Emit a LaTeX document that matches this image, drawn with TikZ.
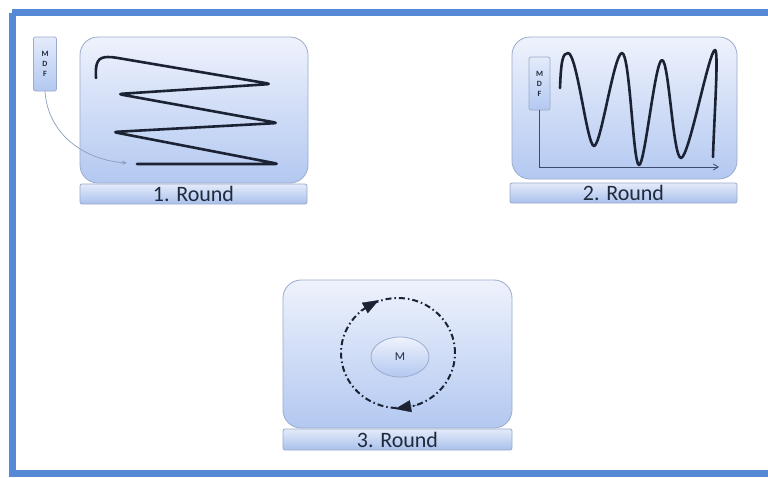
\documentclass[tikz,border=0pt]{standalone}
\usepackage{fontspec}
\setmainfont{Carlito}
\usetikzlibrary{shapes.geometric,arrows.meta}
\definecolor{frameblue}{HTML}{5589D5}
\definecolor{boxtop}{HTML}{EEF2FC}
\definecolor{boxbot}{HTML}{B3C8F1}
\definecolor{boxline}{HTML}{9AABCB}
\definecolor{bartop}{HTML}{E4EBFA}
\definecolor{barbot}{HTML}{A9C0EC}
\definecolor{ink}{HTML}{1B2233}
\definecolor{txt}{HTML}{1F2A3C}
\definecolor{axis}{HTML}{3C4C6C}
\definecolor{soft}{HTML}{8C9CBC}
\tikzset{
  roundbox/.style={draw=boxline, line width=0.8pt, rounded corners=18pt, top color=boxtop, bottom color=boxbot, inner sep=0pt},
  basebar/.style={draw=boxline, line width=0.8pt, rounded corners=2pt, top color=bartop, bottom color=barbot, inner sep=0pt, font=\fontsize{22}{22}\selectfont, text=txt},
  mdfbox/.style={draw=boxline, line width=0.7pt, rounded corners=2pt, top color=bartop, bottom color=boxbot, inner sep=0pt, align=center, font=\bfseries\fontsize{8}{9}\selectfont, text=txt},
  curve/.style={draw=ink, line width=2.6pt, line cap=round, line join=round},
  orbitline/.style={draw=ink, line width=2pt, dash pattern=on 6pt off 3pt on 1.5pt off 3pt},
  orbitarrow/.style={draw=ink, line width=0.3pt, -{Triangle[length=16pt,width=12pt]}},
}
\begin{document}
\begin{tikzpicture}[x=1pt,y=-1pt]
\useasboundingbox (0,0) rectangle (768,477);
\fill[white] (0,0) rectangle (768,477);
% frame
\draw[frameblue, line width=7pt] (12,12.5) -- (772,12.5) (12,12.5) -- (12,473.5) -- (772,473.5);

% ---------- Round 1 ----------
\node[roundbox, minimum width=228pt, minimum height=146pt] (b1) at (194,110) {};
\node[basebar, minimum width=227pt, minimum height=20pt] (r1) at (193.5,194) {1. Round};
\node[mdfbox, minimum width=23pt, minimum height=54pt] (m1) at (45,64) {M\\[1pt]D\\[1pt]F};
\coordinate (e1) at (127,163);
\draw[soft, line width=0.7pt, -{Stealth[length=5pt,width=4pt]}] (m1.south) .. controls (48,135) and (85,160) .. (e1);
\draw[curve, rounded corners=4pt] (96,78) .. controls (95,62) and (98,57) .. (112,57)
  -- (271,84) -- (118,94) -- (278,123) -- (113,132) -- (279,164) -- (137,164);

% ---------- Round 2 ----------
\node[roundbox, minimum width=225pt, minimum height=142pt] (b2) at (624.5,108) {};
\node[basebar, minimum width=227pt, minimum height=20pt] (r2) at (623.5,193) {2. Round};
\node[mdfbox, minimum width=21pt, minimum height=53pt] (m2) at (539.5,83.5) {M\\[1pt]D\\[1pt]F};
\coordinate (ax) at (719,167);
\draw[axis, line width=0.8pt, -{Straight Barb[length=5pt,width=6pt]}] (m2.south) |- (ax);
\draw[curve] (560,88) .. controls (561,60) and (563,53) .. (568,53)
  .. controls (577,53) and (587,146) .. (594,146)
  .. controls (601,146) and (614,53) .. (622,53)
  .. controls (630,53) and (633,165) .. (639,165)
  .. controls (645,165) and (655,60) .. (662,60)
  .. controls (669,60) and (673,158) .. (681,158)
  .. controls (689,158) and (709,50) .. (715,50)
  .. controls (719,50) and (714,120) .. (713,157);

% ---------- Round 3 ----------
\node[roundbox, minimum width=229pt, minimum height=148pt] (b3) at (397.5,354) {};
\node[basebar, minimum width=229pt, minimum height=21pt] (r3) at (397.5,439.5) {3. Round};
\node[ellipse, orbitline, minimum width=114pt, minimum height=110pt] (orbit) at (398,353) {};
\node[ellipse, draw=boxline, line width=0.8pt, top color=boxtop, bottom color=boxbot, minimum width=58pt, minimum height=40pt, inner sep=0pt, font=\fontsize{12}{12}\selectfont, text=txt] (mm) at (400,357) {M};
\draw[orbitarrow] (orbit.132) -- (orbit.110);
\draw[orbitarrow] (orbit.-66) -- (orbit.-93);
\end{tikzpicture}
\end{document}
